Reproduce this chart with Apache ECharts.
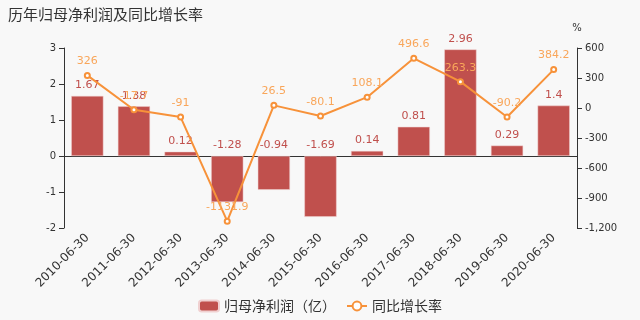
<!DOCTYPE html>
<html><head><meta charset="utf-8">
<script src="https://cdn.jsdelivr.net/npm/echarts@6/dist/echarts.min.js"></script>
<style>html,body{margin:0;padding:0;background:#f8f8f8}#c{width:640px;height:320px}</style>
</head><body><div id="c"></div>
<script>
var categories = ['2010-06-30','2011-06-30','2012-06-30','2013-06-30','2014-06-30','2015-06-30','2016-06-30','2017-06-30','2018-06-30','2019-06-30','2020-06-30'];
var profit = [1.67, 1.38, 0.12, -1.28, -0.94, -1.69, 0.14, 0.81, 2.96, 0.29, 1.4];
var growth = [326, -17.7, -91, -1131.9, 26.5, -80.1, 108.1, 496.6, 263.3, -90.2, 384.2];
var leftTicks = {min: -2, max: 3, interval: 1};
var rightTicks = {min: -1200, max: 600, interval: 300};

var chart = echarts.init(document.getElementById('c'));
var font = '"DejaVu Sans", "Noto Sans CJK SC", sans-serif';
var cjk = '"Noto Sans CJK SC", sans-serif';
chart.setOption({
  backgroundColor: '#f8f8f8',
  textStyle: {fontFamily: font},
  title: {text: '历年归母净利润及同比增长率', left: 3, top: 2, textStyle: {fontSize: 15, fontWeight: 'normal', color: '#333', fontFamily: cjk}},
  grid: {left: 64, right: 63, top: 48, bottom: 92, containLabel: false, outerBoundsMode: 'none'},
  legend: {bottom: 2, itemWidth: 20, itemHeight: 11, itemGap: 10, textStyle: {fontSize: 14, color: '#333', fontFamily: cjk},
    data: [{name: '归母净利润（亿）', icon: 'roundRect'}, {name: '同比增长率'}]},
  xAxis: {type: 'category', data: categories,
    axisLine: {onZero: true, lineStyle: {color: '#333'}},
    axisTick: {alignWithLabel: false, lineStyle: {color: '#333'}},
    axisLabel: {rotate: 45, interval: 0, fontSize: 12, color: '#333', margin: 8, fontFamily: font}},
  yAxis: [
    {type: 'value', min: leftTicks.min, max: leftTicks.max, interval: leftTicks.interval,
     axisLine: {show: true, lineStyle: {color: '#333'}}, axisTick: {show: true},
     splitLine: {show: false}, axisLabel: {fontSize: 10, color: '#333', fontFamily: font}},
    {type: 'value', name: '%', nameTextStyle: {color: '#333', fontSize: 10, fontFamily: font},
     min: rightTicks.min, max: rightTicks.max, interval: rightTicks.interval,
     axisLine: {show: true, lineStyle: {color: '#333'}}, axisTick: {show: true},
     splitLine: {show: false}, axisLabel: {fontSize: 10, color: '#333', fontFamily: font}}
  ],
  series: [
    {name: '归母净利润（亿）', type: 'bar', data: profit, barWidth: '69%', yAxisIndex: 0,
     itemStyle: {color: '#c0504d', borderColor: '#f0d0d0', borderWidth: 0.5},
     label: {show: true, position: 'top', color: '#c0504d', fontSize: 11, fontFamily: font,
       formatter: function(p){return p.value;}}},
    {name: '同比增长率', type: 'line', data: growth, yAxisIndex: 1,
     symbol: 'emptyCircle', symbolSize: 5,
     lineStyle: {color: '#f7923a', width: 2}, itemStyle: {color: '#f7923a'},
     label: {show: true, position: 'top', color: '#f9a65a', fontSize: 11, fontFamily: font}}
  ]
});
</script></body></html>
